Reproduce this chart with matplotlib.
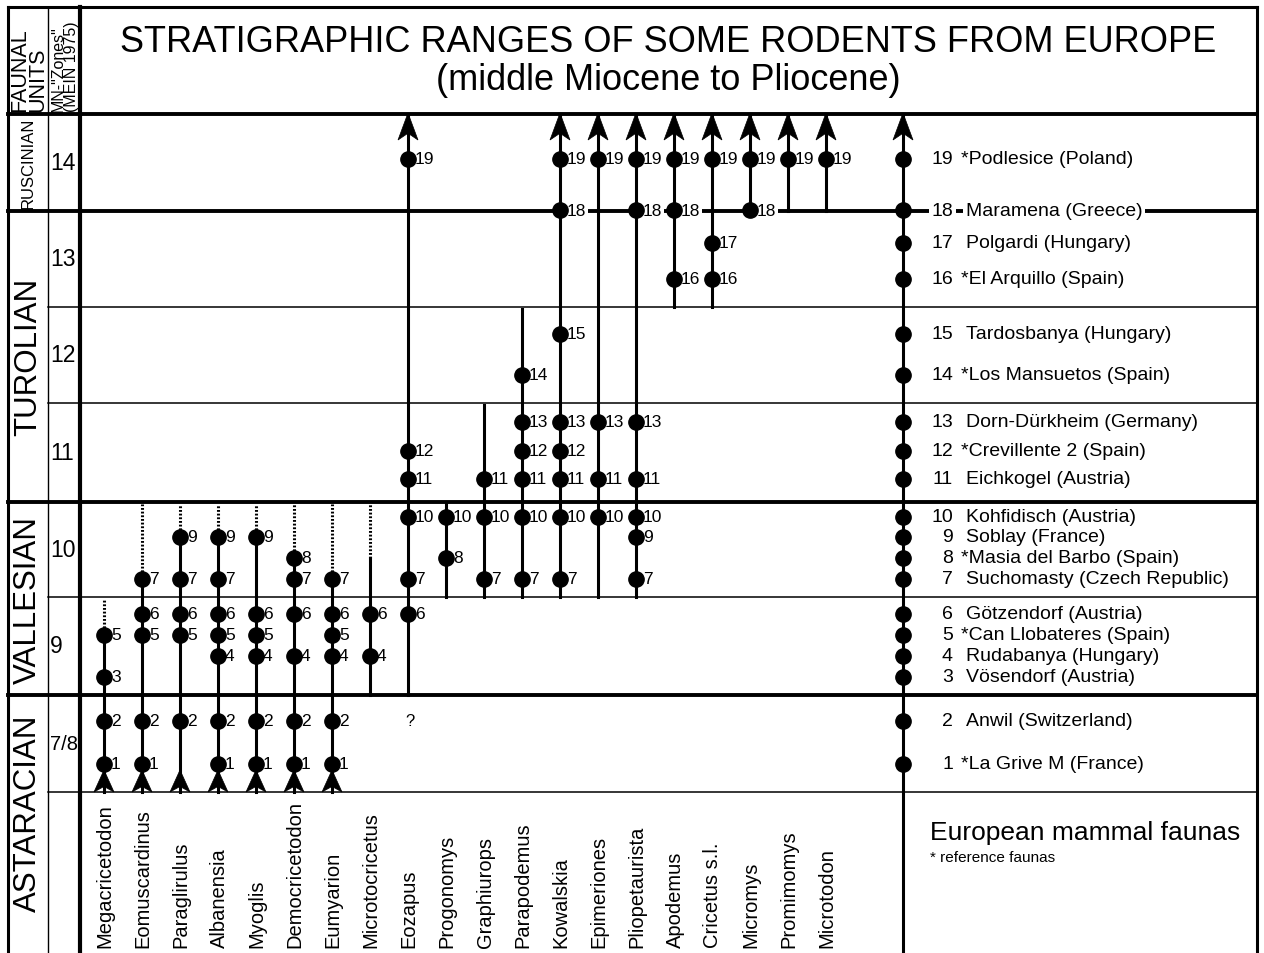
import matplotlib
matplotlib.use("Agg")
import matplotlib.pyplot as plt
from matplotlib.patches import Polygon

# ---------------- data ----------------
genera = ["Megacricetodon", "Eomuscardinus", "Paraglirulus", "Albanensia", "Myoglis",
          "Democricetodon", "Eumyarion", "Microtocricetus", "Eozapus", "Progonomys",
          "Graphiurops", "Parapodemus", "Kowalskia", "Epimeriones", "Pliopetaurista",
          "Apodemus", "Cricetus s.l.", "Micromys", "Promimomys", "Microtodon"]

# faunas (locality numbers) in which each genus is recorded
records = [[1, 2, 3, 5], [1, 2, 5, 6, 7], [2, 5, 6, 7, 9], [1, 2, 4, 5, 6, 7, 9],
           [1, 2, 4, 5, 6, 9], [1, 2, 4, 6, 7, 8], [1, 2, 4, 5, 6, 7], [4, 6],
           [6, 7, 10, 11, 12, 19], [8, 10], [7, 10, 11], [7, 10, 11, 12, 13, 14],
           [7, 10, 11, 12, 13, 15, 18, 19], [10, 11, 13, 19], [7, 9, 10, 11, 13, 18, 19],
           [16, 18, 19], [16, 17, 19], [18, 19], [19], [19]]

# first / last MN zone of each range ("<" older, ">" younger continuation)
first_zone = ["<", "<", "<", "<", "<", "<", "<", "9", "9", "10",
              "10", "10", "10", "10", "10", "13", "13", "14", "14", "14"]
last_zone = ["9", "10", "10", "10", "10", "10", "10", "10", ">", "10",
             "11", "12", ">", ">", ">", ">", ">", ">", ">", ">"]
# range is certain up to this fauna, uncertain (dotted) above it
certain_to = [5, 7, 9, 9, 9, 8, 7, 8, None, None,
              None, None, None, None, None, None, None, None, None, None]

fauna_no = list(range(19, 0, -1))
fauna_names = ["*Podlesice (Poland)", "Maramena (Greece)", "Polgardi (Hungary)",
               "*El Arquillo (Spain)", "Tardosbanya (Hungary)", "*Los Mansuetos (Spain)",
               "Dorn-Dürkheim (Germany)", "*Crevillente 2 (Spain)", "Eichkogel (Austria)",
               "Kohfidisch (Austria)", "Soblay (France)", "*Masia del Barbo (Spain)",
               "Suchomasty (Czech Republic)", "Götzendorf (Austria)",
               "*Can Llobateres (Spain)", "Rudabanya (Hungary)", "Vösendorf (Austria)",
               "Anwil (Switzerland)", "*La Grive M (France)"]

mn_zones = ["14", "13", "12", "11", "10", "9", "7/8"]
faunal_units = ["RUSCINIAN", "TUROLIAN", "VALLESIAN", "ASTARACIAN"]

# ---------------- layout (pixel scale of the sheet) ----------------
zone_top = {"14": 115, "13": 212, "12": 308, "11": 404, "10": 503, "9": 598, "7/8": 696}
zone_bot = {"14": 212, "13": 308, "12": 404, "11": 503, "10": 598, "9": 696, "7/8": 793}
loc_y = {19: 160, 18: 211, 17: 244, 16: 280, 15: 335, 14: 376, 13: 423, 12: 452,
         11: 480, 10: 518, 9: 538, 8: 559, 7: 580, 6: 615, 5: 636, 4: 657, 3: 678,
         2: 722, 1: 765}
unit_center = [163, 357, 600, 813]
unit_size = [12, 22.5, 22.5, 22.5]
X0, DX = 104, 38
X_FAUNA = 903
TOP, BOTTOM, LEFT, RIGHT = 8, 954, 8, 1257

plt.rcParams['font.family'] = 'Liberation Sans'

fig = plt.figure(figsize=(12.64, 9.54), dpi=100)
ax = fig.add_axes([0, 0, 1, 1])
ax.set_xlim(0, 1264)
ax.set_ylim(954, 0)
ax.axis('off')


def arrowhead(x, tip, base):
    notch = base - (base - tip) * 0.25
    ax.add_patch(Polygon([(x, tip), (x - 10, base), (x, notch), (x + 10, base)],
                         closed=True, fc='black', ec='black', lw=0.5, zorder=5))


# ---------------- frame ----------------
ax.plot([LEFT, RIGHT], [TOP, TOP], color='k', lw=2.2)
for xv, lw in [(LEFT, 2.2), (48, 1.0), (80, 3.0), (RIGHT, 2.2)]:
    ax.plot([xv, xv], [TOP, BOTTOM], color='k', lw=lw, zorder=2)
for yv in [115, 212, 503, 696]:
    ax.plot([LEFT, RIGHT], [yv, yv], color='k', lw=2.8, zorder=1)
for yv in [308, 404, 598, 793]:
    ax.plot([48, RIGHT], [yv, yv], color='k', lw=1.1, zorder=1)

# header
ax.text(668, 43, "STRATIGRAPHIC RANGES OF SOME RODENTS FROM EUROPE",
        ha='center', va='center', fontsize=26)
ax.text(668, 81, "(middle Miocene to Pliocene)", ha='center', va='center', fontsize=26)
ax.text(29, 112, "FAUNAL\nUNITS", rotation=90, ha='center', va='bottom',
        multialignment='left', linespacing=0.82, fontsize=15.5)
ax.text(65, 112, 'MN-"Zones"\n(MEIN 1975)', rotation=90, ha='center', va='bottom',
        multialignment='left', linespacing=0.8, fontsize=11.5)

# faunal units and MN zones
for name, yc, fs in zip(faunal_units, unit_center, unit_size):
    ax.text(28, yc, name, rotation=90, ha='center', va='center', fontsize=fs)
for z in mn_zones:
    ax.text(50, (zone_top[z] + zone_bot[z]) / 2, z, ha='left', va='center',
            fontsize=14.5 if '/' in z else 16.5)

# ---------------- genus ranges ----------------
for i, g in enumerate(genera):
    x = X0 + i * DX
    y_bot = 793 if first_zone[i] == '<' else zone_bot[first_zone[i]]
    y_top = 115 if last_zone[i] == '>' else zone_top[last_zone[i]] + 2
    if last_zone[i] == '>':
        arrowhead(x, 114, 141)
    if first_zone[i] == '<':
        arrowhead(x, 771, 793)
    if certain_to[i] is None:
        ax.plot([x, x], [y_bot, y_top], color='k', lw=2.2, zorder=2)
    else:
        y_c = loc_y[certain_to[i]]
        ax.plot([x, x], [y_bot, y_c], color='k', lw=2.2, zorder=2)
        ax.plot([x, x], [y_c, y_top], color='k', lw=2.2, ls=(0, (0.6, 0.6)), zorder=2)
    for r in records[i]:
        ax.plot(x, loc_y[r], 'o', color='k', ms=11, zorder=4)
        box = dict(fc='white', ec='none', pad=1.5) if r == 18 else None
        ax.text(x + 7, loc_y[r], str(r), ha='left', va='center', fontsize=12.5,
                bbox=box, zorder=3)
    ax.text(x + 1, 948, g, rotation=90, ha='center', va='bottom', fontsize=14.5)

ax.text(410, 722, "?", ha='center', va='center', fontsize=12)

# ---------------- European mammal faunas ----------------
arrowhead(X_FAUNA, 114, 141)
ax.plot([X_FAUNA, X_FAUNA], [115, BOTTOM], color='k', lw=2.2, zorder=2)
for n, name in zip(fauna_no, fauna_names):
    y = loc_y[n]
    ax.plot(X_FAUNA, y, 'o', color='k', ms=11, zorder=4)
    box = dict(fc='white', ec='none', pad=2) if n == 18 else None
    ax.text(953, y, str(n), ha='right', va='center', fontsize=14, bbox=box, zorder=3)
    ax.text(961 if name.startswith('*') else 966, y, name, ha='left', va='center',
            fontsize=14, bbox=box, zorder=3)

ax.text(930, 833, "European mammal faunas", ha='left', va='center', fontsize=19)
ax.text(930, 858, "* reference faunas", ha='left', va='center', fontsize=11)

fig.savefig("out.png", dpi=100)
